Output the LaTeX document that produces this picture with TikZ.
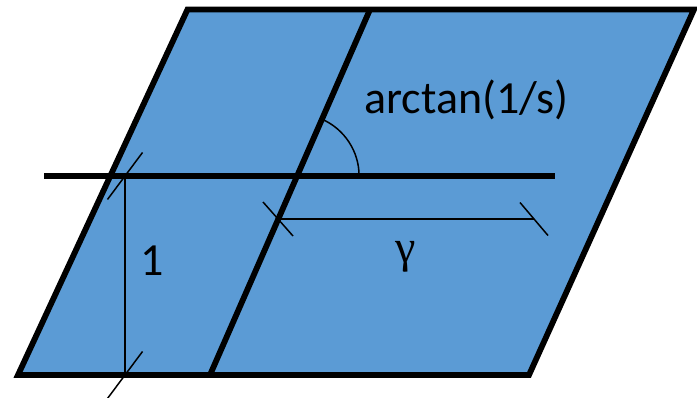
\documentclass[tikz,border=0pt]{standalone}
\usepackage{fontspec}
\setmainfont{Carlito}
\newfontfamily\gammafont{Liberation Serif}
\usetikzlibrary{calc}
\definecolor{Sheet}{HTML}{5B9BD5}
\newcommand{\DimTick}[3]{%
  \draw[thin rule] ($(#1)+(#2,#3)$) -- ($(#1)-(#2,#3)$);%
}

\begin{document}
\begin{tikzpicture}[x=1pt,y=-1pt,
  thick rule/.style={line width=5.8pt},
  thin rule/.style={line width=1.5pt},
  label text/.style={font=\fontsize{46}{50}\selectfont,inner sep=0pt,anchor=base}]
\useasboundingbox (0,0) rectangle (697,398);
% sheet corners
\coordinate (BL) at (18,375);
\coordinate (BR) at (529,375);
\coordinate (TR) at (694,9.5);
\coordinate (TL) at (187.5,9.5);
\filldraw[fill=Sheet,thick rule,line join=miter] (BL) -- (BR) -- (TR) -- (TL) -- cycle;
% inner slanted line and horizontal line
\coordinate (InB) at (210,375);
\coordinate (InT) at (370,9.5);
\draw[thick rule] (InB) -- (InT);
\coordinate (HL) at (44,176);
\coordinate (HR) at (555,176);
\draw[thick rule] (HL) -- (HR);
% height 1
\coordinate (VT) at (125,176);
\coordinate (VB) at (125,375);
\draw[thin rule] (VT) -- (VB);
\DimTick{VT}{17.5}{-23.5}
\DimTick{VB}{17.5}{-23.5}
\node[label text] (one) at (152.5,275.5) {1};
% shift gamma
\coordinate (GL) at (278,219);
\coordinate (GR) at (534,219);
\draw[thin rule] (GL) -- (GR);
\DimTick{GL}{15}{17}
\DimTick{GR}{14}{16.5}
\node[label text] (gam) at (405.5,263) {\gammafont γ};
% angle
\coordinate (O) at (297.1,176);
\draw[thin rule] (O) ++(62,0) arc[start angle=0,end angle=66.4,radius=62pt];
\node[label text] (ang) at (466.5,113.3) {arctan(1/s)};
\end{tikzpicture}
\end{document}
